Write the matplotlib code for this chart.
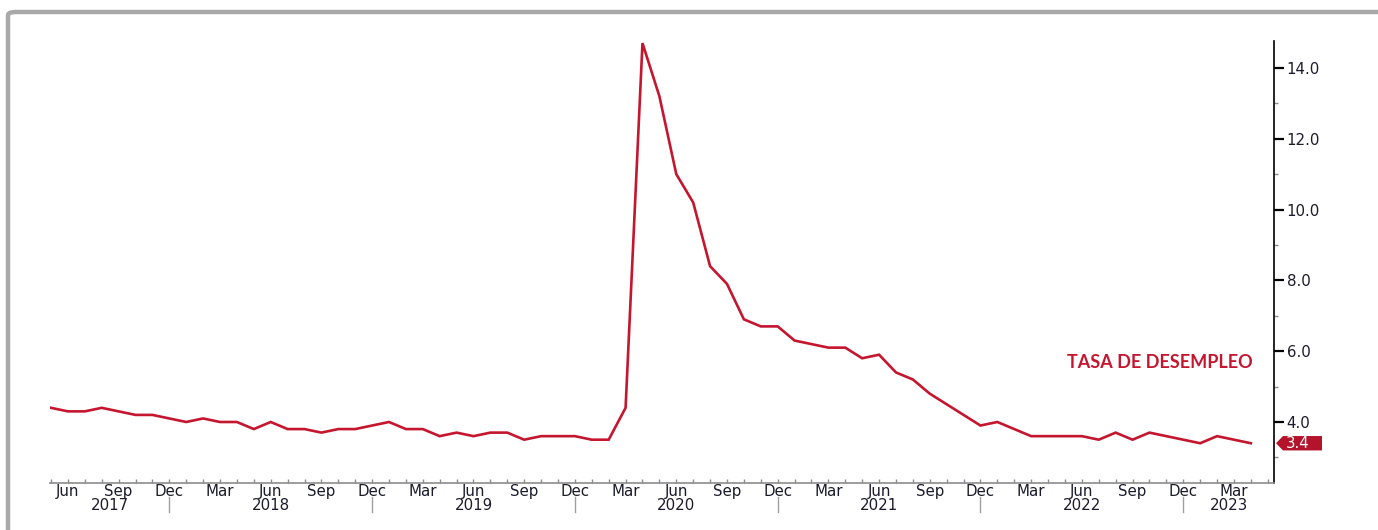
import matplotlib
matplotlib.use("Agg")
import matplotlib.pyplot as plt
import matplotlib.transforms as mtransforms
from matplotlib.patches import Polygon, FancyBboxPatch
from matplotlib.lines import Line2D
import numpy as np

plt.rcParams["font.family"] = ["DejaVu Sans"]

# Monthly unemployment rate, May 2017 - Apr 2023 (%)
start_year, start_month = 2017, 5
unemployment = [
    4.4, 4.3, 4.3, 4.4, 4.3, 4.2, 4.2, 4.1,                          # 2017 May-Dec
    4.0, 4.1, 4.0, 4.0, 3.8, 4.0, 3.8, 3.8, 3.7, 3.8, 3.8, 3.9,      # 2018
    4.0, 3.8, 3.8, 3.6, 3.7, 3.6, 3.7, 3.7, 3.5, 3.6, 3.6, 3.6,      # 2019
    3.5, 3.5, 4.4, 14.7, 13.2, 11.0, 10.2, 8.4, 7.9, 6.9, 6.7, 6.7,  # 2020
    6.3, 6.2, 6.1, 6.1, 5.8, 5.9, 5.4, 5.2, 4.8, 4.5, 4.2, 3.9,      # 2021
    4.0, 3.8, 3.6, 3.6, 3.6, 3.6, 3.5, 3.7, 3.5, 3.7, 3.6, 3.5,      # 2022
    3.4, 3.6, 3.5, 3.4,                                              # 2023 Jan-Apr
]
month_names = ["Jan", "Feb", "Mar", "Apr", "May", "Jun",
               "Jul", "Aug", "Sep", "Oct", "Nov", "Dec"]
labelled_months = ["Mar", "Jun", "Sep", "Dec"]
series_label = "TASA DE DESEMPLEO"
y_ticks = [4.0, 6.0, 8.0, 10.0, 12.0, 14.0]

LINE_RED = "#C4162F"
TAG_RED = "#B3142B"
TEXT = "#1b1b2b"
GREY = "#8c8c8c"
LABEL_SIZE = 10.8

W, H, DPI = 1378, 530, 100
fig = plt.figure(figsize=(W / DPI, H / DPI), dpi=DPI)
fig.patch.set_facecolor("white")

# outer grey frame (runs off the right and bottom edges)
frame = FancyBboxPatch((8 / W, -0.2), 2.0, 1.2 - 12 / H,
                       boxstyle="round,pad=0,rounding_size=0.006",
                       transform=fig.transFigure, facecolor="none",
                       edgecolor="#a9a9a9", linewidth=3.2, zorder=0)
fig.patches.append(frame)

ax_left, ax_right, ax_bottom, ax_top = 50, 1274, 483, 41
ax = fig.add_axes([ax_left / W, 1 - ax_bottom / H,
                   (ax_right - ax_left) / W, (ax_bottom - ax_top) / H])

n = len(unemployment)
x = np.arange(n)
months = [(start_year + (start_month - 1 + i) // 12, (start_month - 1 + i) % 12)
          for i in range(n + 1)]

ax.plot(x, unemployment, color=LINE_RED, linewidth=1.9, solid_joinstyle="miter",
        zorder=3)

ax.set_xlim(-0.06, 72.37)
ax.set_ylim(2.277, 14.76)

for s in ("top", "left"):
    ax.spines[s].set_visible(False)
ax.spines["bottom"].set_color(GREY)
ax.spines["bottom"].set_linewidth(1.2)
ax.spines["right"].set_color("black")
ax.spines["right"].set_linewidth(1.2)

# x axis: a tick per month, labels every quarter
ax.set_xticks(np.arange(n + 1))
ax.set_xticklabels([month_names[m] if month_names[m] in labelled_months else ""
                    for (_, m) in months])
ax.tick_params(axis="x", direction="in", length=3, width=1, color=GREY,
               pad=0.5, labelsize=LABEL_SIZE, labelcolor=TEXT)

# y axis on the right
ax.yaxis.tick_right()
ax.set_yticks(y_ticks)
ax.set_yticklabels([f"{v:.1f}" for v in y_ticks])
ax.set_yticks(np.arange(3, 15, 2), minor=True)
ax.tick_params(axis="y", which="major", direction="out", length=7, width=1.6,
               color="black", pad=2, labelsize=LABEL_SIZE, labelcolor=TEXT)
ax.tick_params(axis="y", which="minor", direction="out", length=3, width=1,
               color=GREY)
ax.tick_params(axis="x", which="minor", length=0)

# year labels with separators at each December
xtrans = ax.get_xaxis_transform()
axh = ax_bottom - ax_top
years = sorted(set(y for y, _ in months[:n]))
for yr in years:
    idx = [i for i in range(n) if months[i][0] == yr]
    lo = idx[0] - 1 if idx[0] > 0 else ax.get_xlim()[0]
    hi = idx[-1] if idx[-1] < n - 1 else ax.get_xlim()[1]
    ax.text((lo + hi) / 2, (ax_bottom - 505) / axh, str(yr), transform=xtrans,
            ha="center", va="center", fontsize=LABEL_SIZE, color=TEXT)
    if months[idx[-1]][1] == 11:
        ax.add_line(Line2D([idx[-1], idx[-1]],
                           [(ax_bottom - 497) / axh, (ax_bottom - 512) / axh],
                           transform=xtrans, color="#a0a0a0", linewidth=1,
                           clip_on=False))

# series title
fig.text(1253 / W, 1 - 362 / H, series_label, ha="right", va="center",
         fontsize=13, fontweight="bold", color=LINE_RED, family="Lato")

# last value tag on the right axis
last = unemployment[-1]
tag_trans = fig.dpi_scale_trans + mtransforms.ScaledTranslation(
    1, last, ax.get_yaxis_transform())
tag = Polygon([(0.02, 0.0), (0.09, 0.072), (0.48, 0.072),
               (0.48, -0.072), (0.09, -0.072)], closed=True,
              facecolor=TAG_RED, edgecolor="none", transform=tag_trans,
              clip_on=False, zorder=5)
ax.add_patch(tag)
ax.annotate(f"{last:.1f}", xy=(1, last), xycoords=ax.get_yaxis_transform(),
            xytext=(0.235 * 72, 0), textcoords="offset points",
            ha="center", va="center", fontsize=LABEL_SIZE, color="white",
            zorder=6, annotation_clip=False)

fig.savefig("out.png", dpi=DPI, facecolor="white")
